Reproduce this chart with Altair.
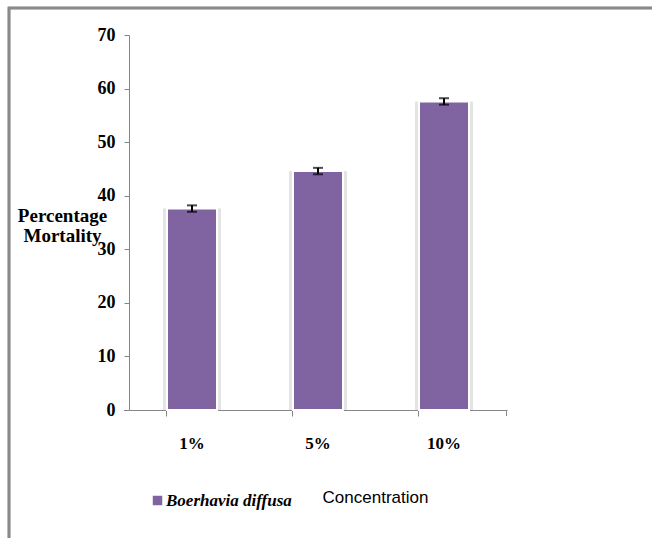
import altair as alt
import pandas as pd

categories = ["1%", "5%", "10%"]
mortality = [37.6, 44.6, 57.6]
errors = [0.6, 0.6, 0.6]
series = "Boerhavia diffusa"

df = pd.DataFrame({
    "conc": categories,
    "value": mortality,
    "err": errors,
    "series": [series] * len(categories),
})
df["lo"] = df["value"] - df["err"]
df["hi"] = df["value"] + df["err"]

SERIF = "Liberation Serif"
AXIS_GREY = "#868686"
PURPLE = "#8064A2"

W, H = 378, 375

x_enc = alt.X(
    "conc:N",
    sort=categories,
    scale=alt.Scale(paddingInner=0.6, paddingOuter=0.3),
    axis=alt.Axis(
        title="Concentration",
        titleFont="Liberation Sans",
        titleFontSize=17,
        titleFontWeight="normal",
        titleColor="black",
        titleX=246,
        titleY=87,
        titleAlign="center",
        titleBaseline="middle",
        labelFont=SERIF,
        labelFontSize=17,
        labelFontWeight="bold",
        labelColor="black",
        labelAngle=0,
        labelPadding=19,
        labelBaseline="top",
        bandPosition=0,
        ticks=True,
        tickSize=6,
        tickColor=AXIS_GREY,
        domainColor=AXIS_GREY,
        grid=False,
    ),
)

y_scale = alt.Scale(domain=[0, 70], nice=False)
y_axis = alt.Axis(
    title=["Percentage", "Mortality"],
    titleFont=SERIF,
    titleFontSize=19,
    titleFontWeight="bold",
    titleColor="black",
    titleAngle=0,
    titleAlign="center",
    titleBaseline="top",
    titleLineHeight=20,
    titleX=-67,
    titleY=171,
    values=[0, 10, 20, 30, 40, 50, 60, 70],
    labelFont=SERIF,
    labelFontSize=18,
    labelFontWeight="bold",
    labelColor="black",
    labelPadding=9,
    tickSize=5,
    tickColor=AXIS_GREY,
    domainColor=AXIS_GREY,
    grid=False,
)

base = alt.Chart(df)

shadow = base.mark_bar(color="#e4e4e4", width=58).encode(
    x=x_enc,
    y=alt.Y("value:Q", scale=y_scale, axis=y_axis),
)

bars = base.mark_bar(stroke="white", strokeWidth=2, width=50).encode(
    x=alt.X("conc:N", sort=categories),
    y=alt.Y("value:Q"),
    color=alt.Color(
        "series:N",
        scale=alt.Scale(domain=[series], range=[PURPLE]),
        legend=alt.Legend(
            title=None,
            orient="none",
            legendX=20,
            legendY=457,
            symbolType="square",
            symbolSize=90,
            symbolStrokeWidth=0,
            labelFont=SERIF,
            labelFontSize=17,
            labelFontWeight="bold",
            labelFontStyle="italic",
            labelColor="black",
            labelOffset=0,
            padding=0,
        ),
    ),
)

err_rule = base.mark_rule(color="black", strokeWidth=2).encode(
    x=alt.X("conc:N", sort=categories),
    y="lo:Q",
    y2="hi:Q",
)
cap_lo = base.mark_tick(color="black", thickness=2, size=10, orient="horizontal").encode(
    x=alt.X("conc:N", sort=categories),
    y="lo:Q",
)
cap_hi = base.mark_tick(color="black", thickness=2, size=10, orient="horizontal").encode(
    x=alt.X("conc:N", sort=categories),
    y="hi:Q",
)

end_tick = alt.Chart(df).mark_rule(color=AXIS_GREY, strokeWidth=1).encode(
    x=alt.value(W - 0.5), y=alt.value(H), y2=alt.value(H + 6)
)
left_ext = alt.Chart(df).mark_rule(color=AXIS_GREY, strokeWidth=1).encode(
    x=alt.value(-5), x2=alt.value(0), y=alt.value(H + 0.5)
)

frame = alt.Chart(df).mark_rect(fill=None, stroke="#8a8a8a", strokeWidth=2.5).encode(
    x=alt.value(-120), x2=alt.value(600), y=alt.value(-27), y2=alt.value(560)
)

chart = (
    alt.layer(frame, shadow, bars, err_rule, cap_lo, cap_hi, end_tick, left_ext)
    .properties(
        width=W,
        height=H,
        autosize=alt.AutoSizeParams(type="none"),
        padding={"left": 129, "top": 35, "right": 652 - 129 - W, "bottom": 538 - 35 - H},
        background="white",
    )
    .configure_view(stroke=None)
)

chart.save("out.html", embed_options={"renderer": "svg", "actions": False})
